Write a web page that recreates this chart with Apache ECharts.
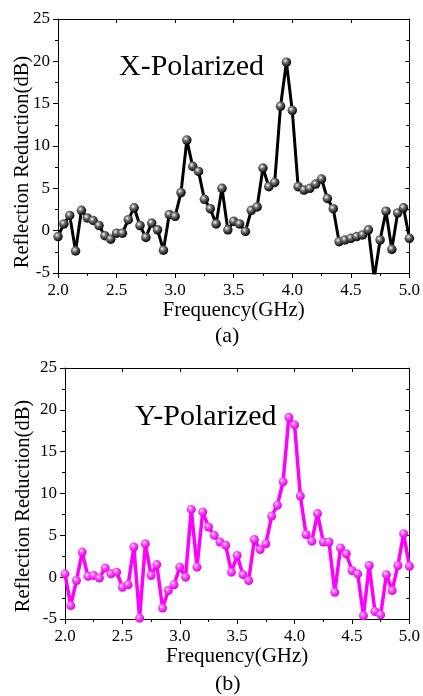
<!DOCTYPE html>
<html><head><meta charset="utf-8">
<script src="https://cdn.jsdelivr.net/npm/echarts@6/dist/echarts.min.js"></script>
<style>html,body{margin:0;padding:0;background:#fff}#c{width:423px;height:696px}</style>
</head><body><div id="c"></div>
<script>
const freq = [2.00,2.05,2.10,2.15,2.20,2.25,2.30,2.35,2.40,2.45,2.50,2.55,2.60,2.65,2.70,2.75,2.80,2.85,2.90,2.95,
3.00,3.05,3.10,3.15,3.20,3.25,3.30,3.35,3.40,3.45,3.50,3.55,3.60,3.65,3.70,3.75,3.80,3.85,3.90,3.95,
4.00,4.05,4.10,4.15,4.20,4.25,4.30,4.35,4.40,4.45,4.50,4.55,4.60,4.65,4.70,4.75,4.80,4.85,4.90,4.95,5.00];
const xPol = [-0.7,0.8,1.8,-2.4,2.4,1.5,1.2,0.6,-0.6,-1.0,-0.3,-0.3,1.3,2.7,0.6,-0.8,0.9,0.1,-2.3,1.9,
1.7,4.5,10.7,7.6,7.0,3.7,2.6,0.8,5.0,0.1,1.1,0.8,-0.1,2.4,2.8,7.4,5.2,5.7,14.7,19.9,
14.2,5.2,4.8,5.0,5.5,6.1,3.8,2.6,-1.3,-1.1,-0.9,-0.7,-0.5,0.1,-5.6,-1.1,2.3,-2.2,2.1,2.7,-0.9];
const yPol = [0.4,-3.4,-0.4,3.0,0.1,0.2,-0.1,1.1,0.4,0.6,-1.2,-0.9,3.6,-4.9,4.0,0.2,1.5,-3.7,-1.6,-0.9,
1.2,0.0,8.1,1.2,7.8,6.0,5.0,4.2,3.8,0.6,2.6,0.3,-0.4,4.5,3.3,4.0,7.3,8.6,11.4,19.1,
18.2,9.7,5.1,4.3,7.6,4.2,4.2,-1.8,3.5,2.8,0.8,0.4,-4.6,1.4,-4.1,-4.5,0.3,-1.6,1.4,5.2,1.3];
const xTicks = ['2.0','2.5','3.0','3.5','4.0','4.5','5.0'];
const xName = 'Frequency(GHz)';
const yName = 'Reflection Reduction(dB)';
const labelsTop = ['X-Polarized','(a)'];
const labelsBot = ['Y-Polarized','(b)'];

const FONT = '"Liberation Serif","Times New Roman",serif';
const chart = echarts.init(document.getElementById('c'), null, {renderer:'canvas'});

function xAxes(gi, nameGap){
  return [{
    gridIndex: gi, type:'value', min:2, max:5, interval:0.5,
    name: xName, nameLocation:'middle', nameGap: nameGap,
    nameTextStyle:{fontFamily:FONT, fontSize:21, color:'#000'},
    axisLine:{show:true, onZero:false, lineStyle:{color:'#000', width:1}},
    axisTick:{show:true, inside:false, length:5, lineStyle:{color:'#000'}},
    minorTick:{show:true, splitNumber:2, length:3, lineStyle:{color:'#000'}},
    axisLabel:{fontFamily:FONT, fontSize:17, color:'#000', margin:9,
      formatter: v => xTicks[Math.round((v-2)/0.5)] || ''},
    splitLine:{show:false}
  },{
    gridIndex: gi, type:'value', min:2, max:5, interval:0.5, position:'top',
    axisLine:{show:true, onZero:false, lineStyle:{color:'#000', width:1}},
    axisTick:{show:true, inside:true, length:4, lineStyle:{color:'#000'}},
    minorTick:{show:false},
    axisLabel:{show:false}, splitLine:{show:false}
  }];
}
function yAxes(gi){
  return [{
    gridIndex: gi, type:'value', min:-5, max:25, interval:5,
    axisLine:{show:true, onZero:false, lineStyle:{color:'#000', width:1}},
    axisTick:{show:true, inside:false, length:5, lineStyle:{color:'#000'}},
    minorTick:{show:true, splitNumber:2, length:3, lineStyle:{color:'#000'}},
    axisLabel:{fontFamily:FONT, fontSize:17, color:'#000', margin:8},
    splitLine:{show:false}
  },{
    gridIndex: gi, type:'value', min:-5, max:25, interval:5, position:'right',
    axisLine:{show:true, onZero:false, lineStyle:{color:'#000', width:1}},
    axisTick:{show:true, inside:true, length:4, lineStyle:{color:'#000'}},
    minorTick:{show:true, splitNumber:2, length:3, lineStyle:{color:'#000'}},
    axisLabel:{show:false}, splitLine:{show:false}
  }];
}
function sphere(c1, c2){
  return {type:'radial', x:0.38, y:0.35, r:0.65,
    colorStops:[{offset:0,color:'#ffffff'},{offset:0.35,color:c1},{offset:1,color:c2}]};
}
function yTitle(cx, cy){
  return {type:'text', x:cx, y:cy, rotation:Math.PI/2,
    style:{text:yName, font:'20.5px '+FONT, fill:'#000', align:'center', verticalAlign:'middle'}};
}

chart.setOption({
  animation:false,
  grid:[
    {left:58, right:13, top:19, height:254},
    {left:65, right:12, top:368, height:251}
  ],
  xAxis: [...xAxes(0, 24), ...xAxes(1, 26)],
  yAxis: [...yAxes(0), ...yAxes(1)],
  series:[
    {type:'line', xAxisIndex:0, yAxisIndex:0, data: freq.map((f,i)=>[f,xPol[i]]),
     lineStyle:{color:'#000', width:3}, symbol:'circle', symbolSize:9.5,
     itemStyle:{color: sphere('#777','#000'), borderWidth:0}, clip:true, z:3},
    {type:'line', xAxisIndex:2, yAxisIndex:2, data: freq.map((f,i)=>[f,yPol[i]]),
     lineStyle:{color:'#ff00ff', width:3.5}, symbol:'circle', symbolSize:9,
     itemStyle:{color: sphere('#ff55ff','#e000e0'), borderWidth:0}, clip:true, z:3}
  ],
  graphic:[
    yTitle(23, 162),
    yTitle(24, 506),
    {type:'text', left:119, top:52, style:{text:labelsTop[0], font:'30px '+FONT, fill:'#000'}},
    {type:'text', left:215, top:325, style:{text:labelsTop[1], font:'22px '+FONT, fill:'#000'}},
    {type:'text', left:135, top:402, style:{text:labelsBot[0], font:'30px '+FONT, fill:'#000'}},
    {type:'text', left:215, top:673, style:{text:labelsBot[1], font:'22px '+FONT, fill:'#000'}}
  ]
});
</script></body></html>
